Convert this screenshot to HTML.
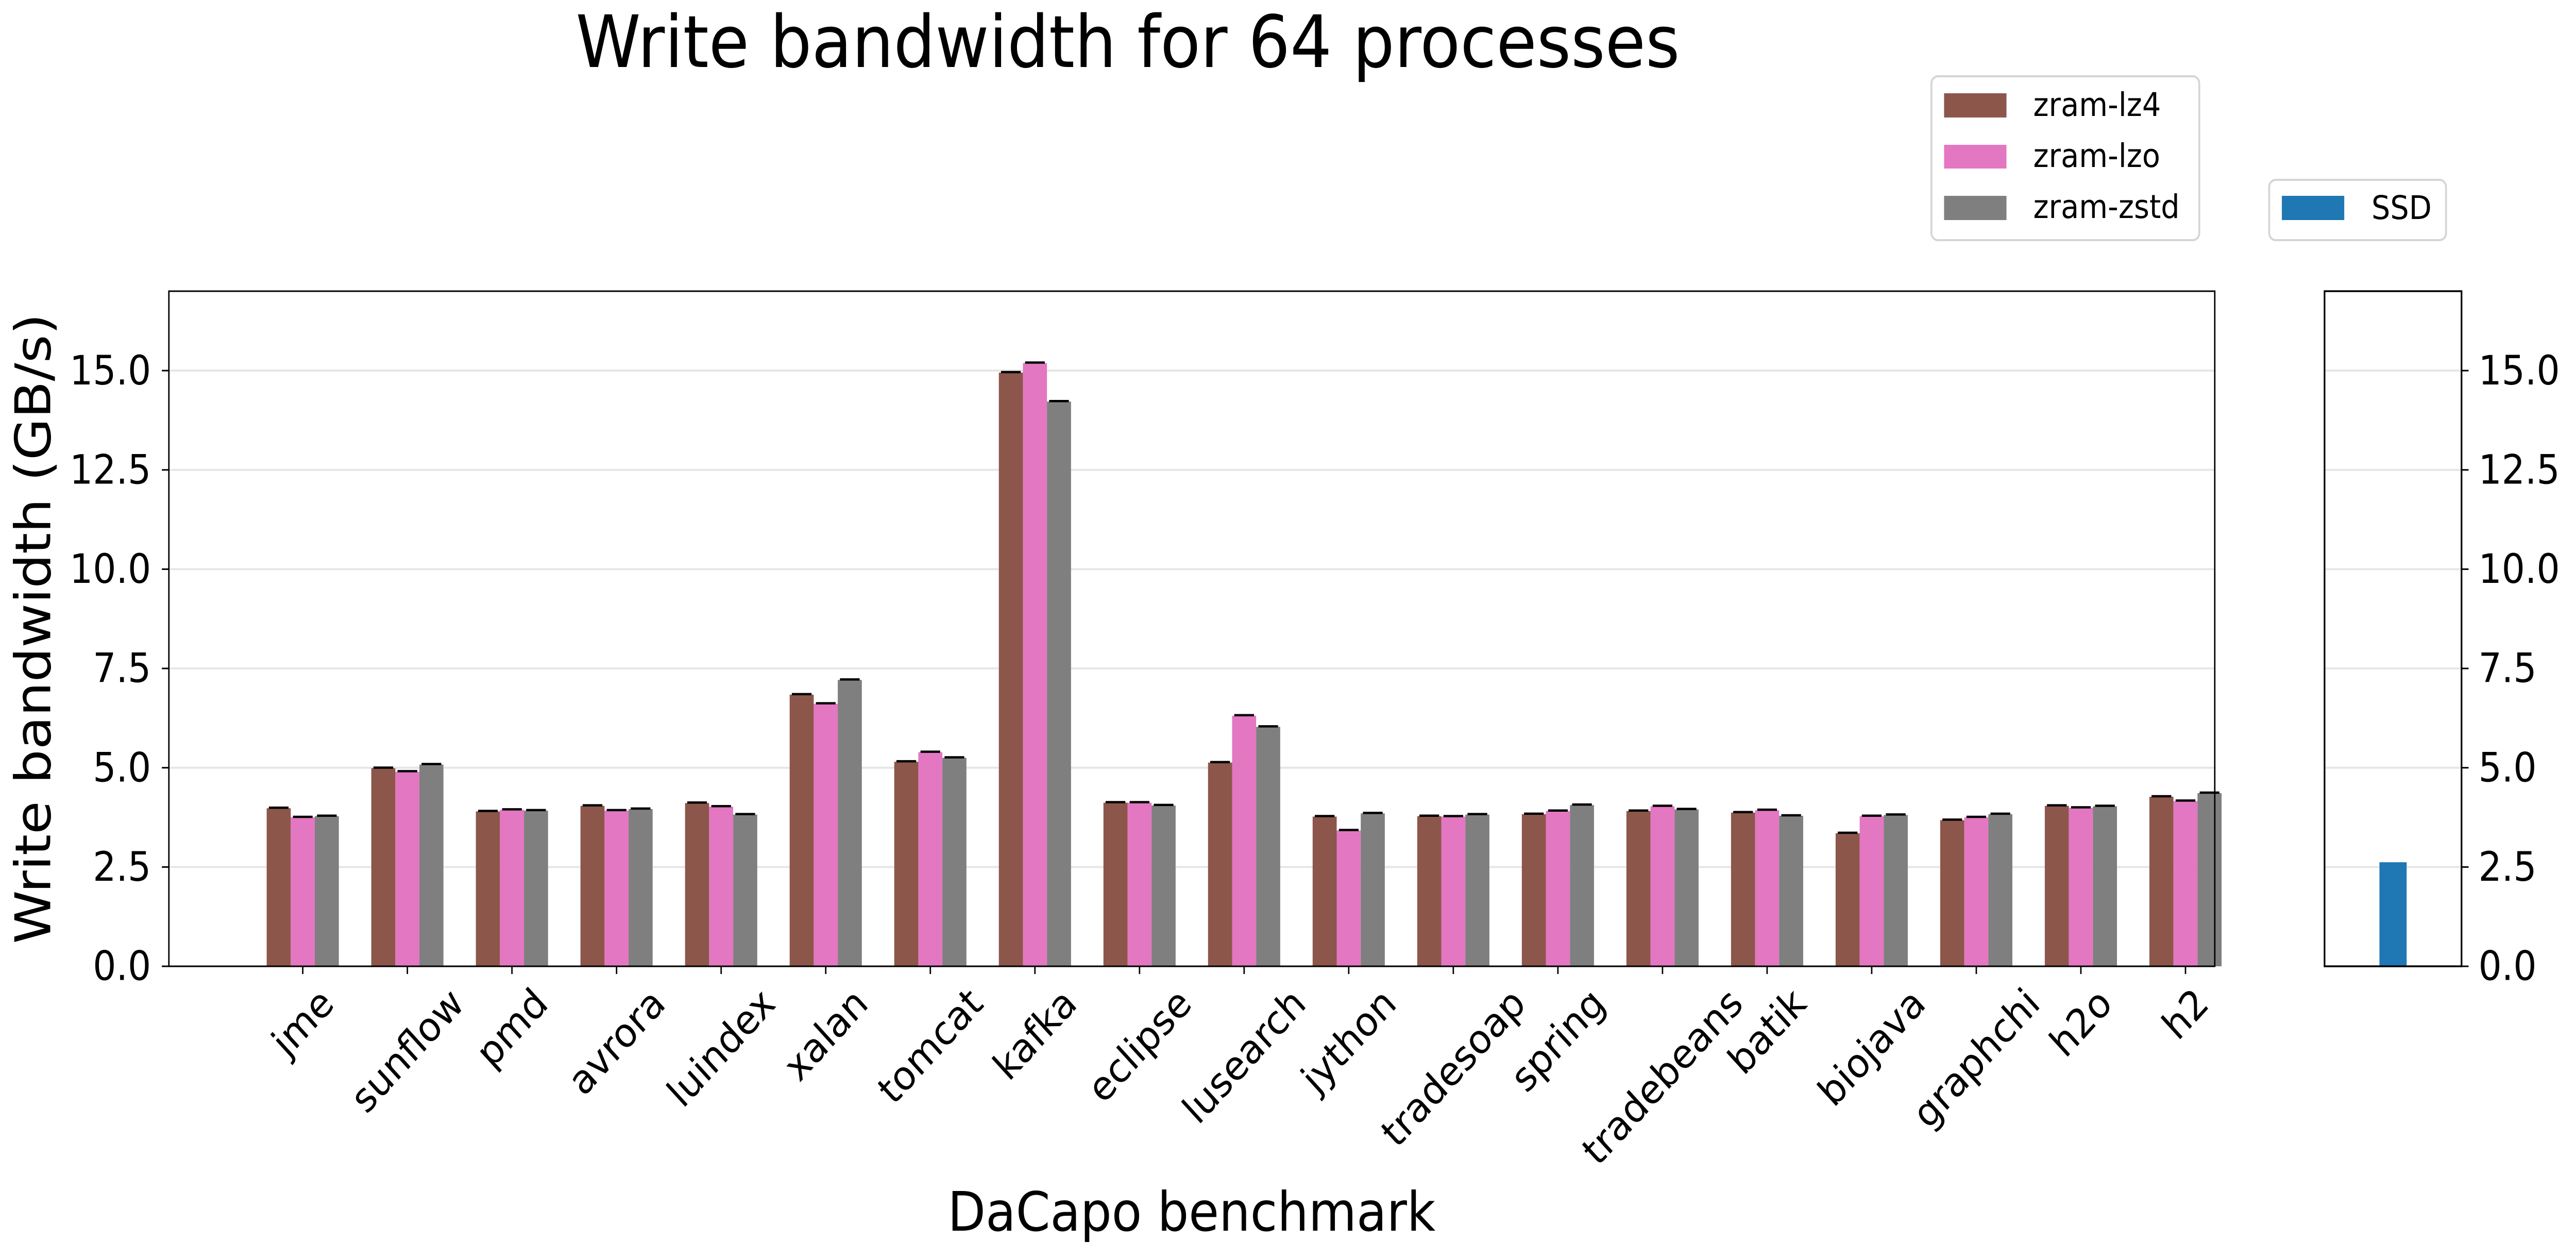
<!DOCTYPE html>
<html><head><meta charset="utf-8"><style>
html,body{margin:0;padding:0;background:#fff;width:100%;height:100%;overflow:hidden;}
svg{display:block;position:absolute;left:0;top:0;width:100vw;height:100vh;overflow:hidden;font-family:"DejaVu Sans","Liberation Sans",sans-serif;}
</style></head><body>
<svg id="chart" viewBox="0 0 5491 2441" preserveAspectRatio="none" xmlns="http://www.w3.org/2000/svg">
<rect x="0" y="0" width="5491" height="2441" fill="#fff"/>
<text x="2404" y="130" font-size="140" text-anchor="middle">Write bandwidth for 64 processes</text>
<g id="main"></g>
<g id="ssd"></g>
<text transform="translate(107,1220) rotate(-90)" font-size="105" text-anchor="middle">Write bandwidth (GB/s)</text>
<text x="2540" y="2388" font-size="105" text-anchor="middle">DaCapo benchmark</text>
<g>
<rect x="4117" y="148" width="571" height="318" rx="14" fill="#fff" stroke="#d5d5d5" stroke-width="4"/>
<rect x="4144" y="181" width="133" height="47" fill="#8c564b"/>
<text x="4334" y="225" font-size="63">zram-lz4</text>
<rect x="4144" y="281" width="133" height="46" fill="#e377c2"/>
<text x="4334" y="324" font-size="63">zram-lzo</text>
<rect x="4144" y="380" width="133" height="47" fill="#7f7f7f"/>
<text x="4334" y="423" font-size="63">zram-zstd</text>
</g>
<g>
<rect x="4837" y="349" width="377" height="117" rx="14" fill="#fff" stroke="#d5d5d5" stroke-width="4"/>
<rect x="4864" y="380" width="133" height="47" fill="#1f77b4"/>
<text x="5055" y="425" font-size="63">SSD</text>
</g>
</svg>
<script>
const categories = ["jme","sunflow","pmd","avrora","luindex","xalan","tomcat","kafka","eclipse","lusearch","jython","tradesoap","spring","tradebeans","batik","biojava","graphchi","h2o","h2"];
const lz4Values  = [3.98,4.99,3.90,4.04,4.11,6.84,5.15,14.95,4.12,5.13,3.77,3.78,3.83,3.91,3.87,3.35,3.68,4.04,4.27];
const lzoValues  = [3.75,4.90,3.94,3.92,4.02,6.61,5.39,15.19,4.12,6.31,3.42,3.77,3.91,4.03,3.93,3.78,3.75,3.99,4.16];
const zstdValues = [3.78,5.08,3.92,3.96,3.82,7.21,5.25,14.22,4.05,6.03,3.85,3.82,4.06,3.95,3.79,3.81,3.83,4.03,4.36];
const ssdValues = [2.62];
const yTicks = [0, 2.5, 5, 7.5, 10, 12.5, 15];
const yTickLabels = ["0.0","2.5","5.0","7.5","10.0","12.5","15.0"];

const NS = "http://www.w3.org/2000/svg";
function mk(tag, attrs, parent){const e=document.createElementNS(NS,tag);for(const k in attrs)e.setAttribute(k,attrs[k]);parent.appendChild(e);return e;}
const Y0=1875, YT=565, YMAX=17, FS=78;
function y(v){return Y0-(v/YMAX)*(Y0-YT);}
const ML=360, MR=4721, XMIN=-1.28, XMAX=18.28;
function x(i){return ML+(i-XMIN)/(XMAX-XMIN)*(MR-ML);}
const main=document.getElementById('main');
yTicks.forEach((t,i)=>{
  const g=mk('line',{x1:ML,x2:MR,y1:y(t),y2:y(t),stroke:'#e6e6e6','stroke-width':4},main);
  
  
  const tk=mk('line',{x1:ML-15,x2:ML,y1:y(t),y2:y(t),stroke:'#000','stroke-width':3},main);
  
  
  const tl=mk('text',{x:ML-38,y:y(t),'font-size':FS,'text-anchor':'end','dominant-baseline':'central'},main);
  tl.textContent=yTickLabels[i];
  
  
});
const series=[[lz4Values,'#8c564b','zram-lz4'],[lzoValues,'#e377c2','zram-lzo'],[zstdValues,'#7f7f7f','zram-zstd']];
const bw=0.23, pxPerUnit=(MR-ML)/(XMAX-XMIN);
categories.forEach((c,i)=>{
  series.forEach((s,j)=>{
    const cx=x(i+(j-1)*bw);
    const w=bw*pxPerUnit;
    const r=mk('rect',{x:cx-w/2,y:y(s[0][i]),width:w,height:Y0-y(s[0][i]),fill:s[1]},main);
    
    
    const cap=mk('line',{x1:cx-21,x2:cx+21,y1:y(s[0][i])-1,y2:y(s[0][i])-1,stroke:'#000','stroke-width':4.5},main);
    
    
  });
  const tk=mk('line',{x1:x(i),x2:x(i),y1:Y0,y2:Y0+15,stroke:'#000','stroke-width':3},main);
  
  
  const tl=mk('text',{'font-size':FS,'text-anchor':'middle','dominant-baseline':'central'},main);
  tl.textContent=c;
  
  
  const len=tl.getComputedTextLength();
  const H=(len+FS)*Math.SQRT1_2;
  tl.setAttribute('transform','translate('+x(i)+','+(1905+H/2)+') rotate(-45)');
});
const fr=mk('rect',{x:ML,y:YT,width:MR-ML,height:Y0-YT,fill:'none',stroke:'#000','stroke-width':3},main);



const ssd=document.getElementById('ssd');
const SL=4955, SR=5247;
yTicks.forEach((t,i)=>{
  const g=mk('line',{x1:SL,x2:SR,y1:y(t),y2:y(t),stroke:'#e6e6e6','stroke-width':4},ssd);
  
  
  const tk=mk('line',{x1:SR,x2:SR+15,y1:y(t),y2:y(t),stroke:'#000','stroke-width':3},ssd);
  
  
  const tl=mk('text',{x:SR+36,y:y(t),'font-size':FS,'dominant-baseline':'central'},ssd);
  tl.textContent=yTickLabels[i];
  
  
});
ssdValues.forEach(v=>{
  const r=mk('rect',{x:5072,y:y(v),width:58,height:Y0-y(v),fill:'#1f77b4'},ssd);
  
  
});
const sf=mk('rect',{x:SL,y:YT,width:SR-SL,height:Y0-YT,fill:'none',stroke:'#000','stroke-width':3.5},ssd);


</script>
</body></html>
